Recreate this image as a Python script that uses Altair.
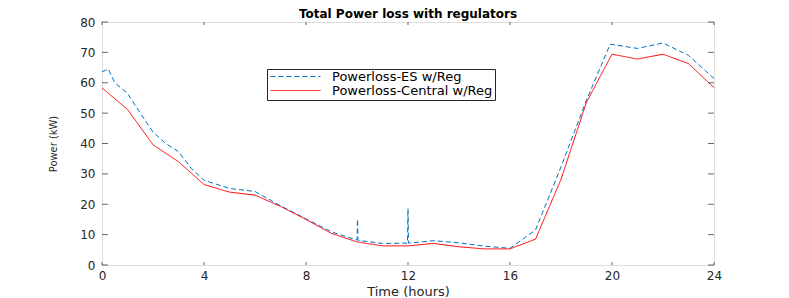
import altair as alt
import pandas as pd

# ---- data ----
es_time = [0, 0.25, 0.5, 1, 1.5, 2, 2.5, 3, 3.5, 4, 5, 6, 7, 8, 9, 10,
           10.02, 10.04, 11, 11.98, 12.0, 12.02, 13, 14, 15, 16, 17, 18,
           19, 19.93, 21, 22, 23, 24]
es_power = [63.6, 64.5, 60.0, 56.5, 50.0, 43.8, 40.0, 37.3, 31.8, 27.9,
            25.2, 24.2, 19.5, 15.2, 10.9, 8.2, 15.1, 8.1, 7.1, 7.2, 18.6,
            7.2, 8.0, 7.3, 6.2, 5.5, 11.5, 32.3, 54.3, 72.7, 71.3, 73.1,
            69.0, 61.4]

central_time = list(range(25))
central_power = [58.3, 51.2, 39.6, 34.0, 26.5, 24.0, 23.0, 19.3, 15.0,
                 10.4, 7.6, 6.3, 6.3, 7.1, 6.0, 5.3, 5.3, 8.5, 28.2, 53.6,
                 69.4, 67.8, 69.4, 66.3, 58.4]

series_names = ["Powerloss-ES w/Reg", "Powerloss-Central w/Reg"]
series_colors = ["#0072BD", "#FF0000"]
series_dash = [[5, 3], [1, 0]]

x_ticks = [0, 4, 8, 12, 16, 20, 24]
y_ticks = [0, 10, 20, 30, 40, 50, 60, 70, 80]

# ---- build table ----
df = pd.concat([
    pd.DataFrame({"Time": es_time, "Power": es_power, "Series": series_names[0]}),
    pd.DataFrame({"Time": central_time, "Power": central_power, "Series": series_names[1]}),
], ignore_index=True)
df["idx"] = range(len(df))

W, H = 612, 243
AX = "#262626"
x_scale = alt.Scale(domain=[0, 24], nice=False, zero=False)
y_scale = alt.Scale(domain=[0, 80], nice=False)

legend = alt.Legend(
    title=None, orient="none", legendX=165, legendY=47,
    fillColor="white", strokeColor=AX, padding=2, cornerRadius=0,
    symbolType="M-5,0L5,0", symbolSize=100, symbolStrokeWidth=1,
    symbolOffset=20, labelOffset=30, rowPadding=0, clipHeight=11,
    labelFont="DejaVu Sans", labelFontSize=13, labelColor="black",
    labelLimit=400,
)

x_axis = alt.Axis(
    values=x_ticks, tickSize=0, domain=False, grid=False,
    labelFont="DejaVu Sans", labelFontSize=12, labelPadding=5,
    labelColor=AX, labelFlush=False, labelOverlap=False,
    title="Time (hours)", titleFont="DejaVu Sans", titleFontSize=13,
    titleFontWeight="normal", titleColor=AX,
    titleX=W / 2, titleY=26, titleAlign="center", titleBaseline="middle")
y_axis = alt.Axis(
    values=y_ticks, tickSize=0, domain=False, grid=False,
    labelFont="DejaVu Sans", labelFontSize=12, labelPadding=7,
    labelColor=AX, labelFlush=False, labelOverlap=False,
    title="Power (kW)", titleFont="DejaVu Sans Condensed, Liberation Sans, sans-serif",
    titleFontSize=11, titleFontWeight="normal", titleColor=AX,
    titleX=-49, titleY=H / 2, titleAngle=270, titleAlign="center",
    titleBaseline="middle")

lines = alt.Chart(df).mark_line(strokeWidth=1).encode(
    x=alt.X("Time:Q", scale=x_scale, axis=x_axis),
    y=alt.Y("Power:Q", scale=y_scale, axis=y_axis),
    color=alt.Color("Series:N", scale=alt.Scale(domain=series_names, range=series_colors),
                    legend=legend),
    strokeDash=alt.StrokeDash("Series:N", scale=alt.Scale(domain=series_names, range=series_dash),
                              legend=legend),
    order=alt.Order("idx:Q"),
)

xt = pd.DataFrame({"Time": x_ticks})
yt = pd.DataFrame({"Power": y_ticks})

tick_bottom = alt.Chart(xt).mark_tick(orient="vertical", size=3, thickness=1, color=AX).encode(
    x=alt.X("Time:Q", scale=x_scale, axis=x_axis), y=alt.value(H - 1.5))
tick_top = alt.Chart(xt).mark_tick(orient="vertical", size=3, thickness=1, color=AX).encode(
    x=alt.X("Time:Q", scale=x_scale, axis=x_axis), y=alt.value(1.5))
tick_left = alt.Chart(yt).mark_tick(orient="horizontal", size=6, thickness=1, color=AX).encode(
    y=alt.Y("Power:Q", scale=y_scale, axis=y_axis), x=alt.value(3))
tick_right = alt.Chart(yt).mark_tick(orient="horizontal", size=6, thickness=1, color=AX).encode(
    y=alt.Y("Power:Q", scale=y_scale, axis=y_axis), x=alt.value(W - 3))

chart = alt.layer(lines, tick_bottom, tick_top, tick_left, tick_right).properties(
    width=W, height=H,
    title=alt.TitleParams("Total Power loss with regulators", font="DejaVu Sans",
                          fontSize=12, fontWeight="bold", color="black",
                          anchor="middle", offset=3, frame="group", dy=8),
    autosize=alt.AutoSizeParams(type="none"),
    padding={"left": 94, "top": 14, "right": 60, "bottom": 33},
).configure_view(stroke=AX, strokeWidth=1).configure(background="white")

chart.save("out.html", embed_options={"renderer": "svg", "actions": False})
